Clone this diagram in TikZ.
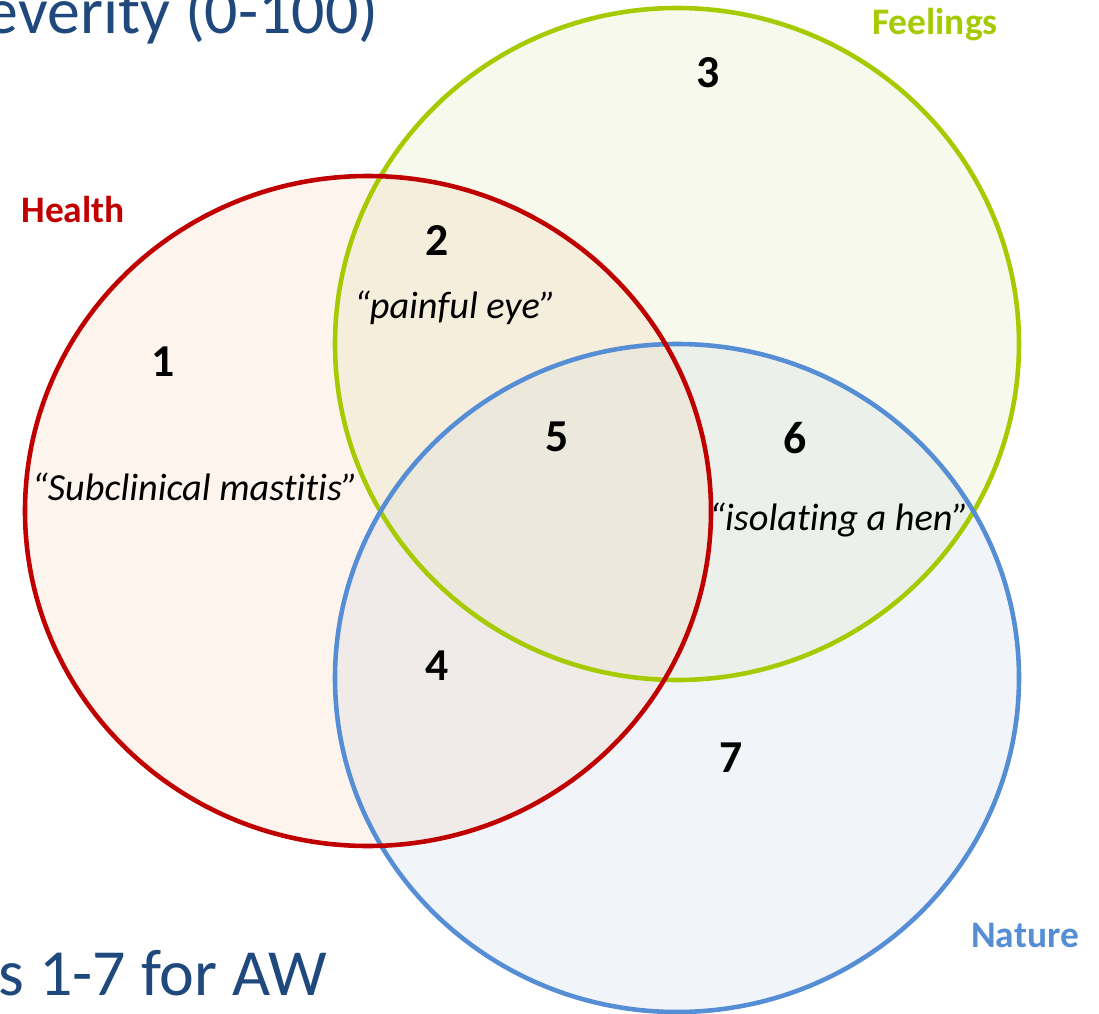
\documentclass[tikz,border=0pt]{standalone}
\usepackage{fontspec}
\setmainfont[Ligatures={NoCommon}]{Carlito}
\usetikzlibrary{positioning}
\definecolor{healthred}{RGB}{192,0,0}
\definecolor{feelgreen}{RGB}{166,202,0}
\definecolor{natureblue}{RGB}{85,142,213}
\definecolor{titleblue}{RGB}{31,73,125}
\definecolor{hfill}{RGB}{253,244,238}
\definecolor{ffill}{RGB}{247,249,236}
\definecolor{nfill}{RGB}{241,245,250}
\definecolor{hffill}{RGB}{245,238,221}
\definecolor{hnfill}{RGB}{240,234,232}
\definecolor{fnfill}{RGB}{236,240,234}
\definecolor{hfnfill}{RGB}{236,232,220}
\tikzstyle{setline}=[line width=2.6pt]
\tikzstyle{setname}=[font=\fontsize{21.3}{23}\selectfont\bfseries, inner sep=0pt]
\tikzstyle{regnum}=[font=\fontsize{26}{28}\selectfont\bfseries, inner sep=0pt]
\tikzstyle{quote}=[font=\fontsize{21.8}{24}\selectfont\itshape, inner sep=0pt]
\tikzstyle{title}=[font=\fontsize{37.5}{40}\selectfont, text=titleblue, inner sep=0pt]

\begin{document}
\begin{tikzpicture}[x=0.02cm, y=-0.02cm]

  \useasboundingbox (0,0) rectangle (1099,1014);

  % plain fills
  \fill[hfill] (368,511) ellipse [x radius=343, y radius=335];
  \fill[ffill] (677,344) ellipse [x radius=342, y radius=336];
  \fill[nfill] (677,678) ellipse [x radius=342, y radius=334];

  % overlaps
  \begin{scope}
    \clip (368,511) ellipse [x radius=343, y radius=335];
    \fill[hffill] (677,344) ellipse [x radius=342, y radius=336];
    \fill[hnfill] (677,678) ellipse [x radius=342, y radius=334];
  \end{scope}
  \begin{scope}
    \clip (677,344) ellipse [x radius=342, y radius=336];
    \fill[fnfill] (677,678) ellipse [x radius=342, y radius=334];
    \clip (368,511) ellipse [x radius=343, y radius=335];
    \fill[hfnfill] (677,678) ellipse [x radius=342, y radius=334];
  \end{scope}

  % outlines
  \draw[setline, feelgreen] (677,344) ellipse [x radius=342, y radius=336];
  \draw[setline, natureblue] (677,678) ellipse [x radius=342, y radius=334];
  \draw[setline, healthred] (368,511) ellipse [x radius=343, y radius=335];

  \node[setname, text=healthred] (health) at (73,210) {Health};
  \node[setname, text=feelgreen] (feelings) at (935,25) {Feelings};
  \node[setname, text=natureblue] (nature) at (1025,935) {Nature};

  \foreach \x/\y/\name/\label in {163/362/one/1, 437/241/two/2, 708/73/three/3, 437/666/four/4,
                                  557/437/five/5, 795/438/six/6, 731/758/seven/7}
          \node[regnum] (\name) at (\x,\y) {\label};

  \node[quote] (eye) at (455,308) {“painful eye”};
  \node[quote] (mastitis) at (195,487) {“Subclinical mastitis”};
  \node[quote] (hen) at (839,520) {“isolating a hen”};

  \node[title, anchor=base east] (severity) at (379,33) {everity (0-100)};
  \node[title, anchor=base east] (areas) at (327,995) {as 1-7 for AW};

\end{tikzpicture}
\end{document}
